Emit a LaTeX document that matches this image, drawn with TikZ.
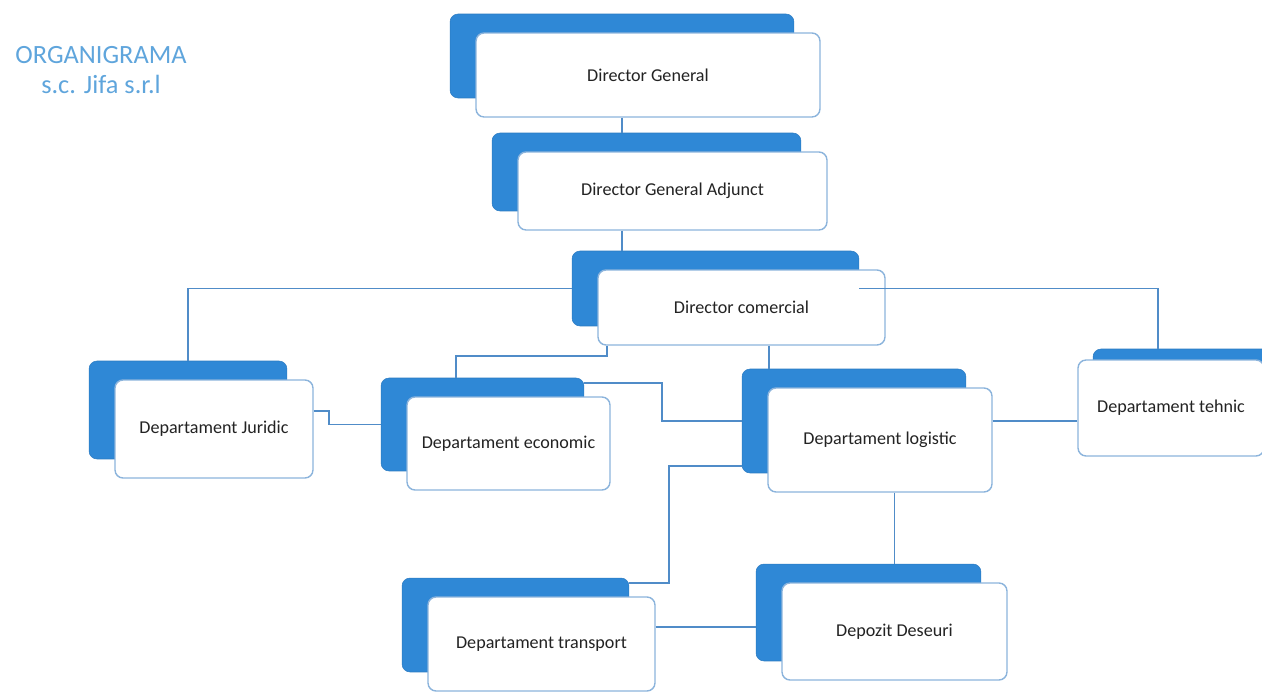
\documentclass[tikz,border=0pt]{standalone}
\usepackage{fontspec}
\setmainfont{Carlito}
\usepackage{xcolor}
\usepackage{tikz}
\usetikzlibrary{positioning,calc}

\definecolor{boxblue}{RGB}{47,136,214}
\definecolor{edgeblue}{RGB}{140,180,220}
\definecolor{lineblue}{RGB}{80,140,200}
\definecolor{titleblue}{RGB}{95,165,220}
\definecolor{textgrey}{RGB}{35,35,35}

\tikzset{
    boxsize/.style 2 args={minimum width=#1, minimum height=#2, inner sep=0pt},
    back/.style={fill=boxblue, draw=boxblue!90!black, line width=0.3pt, rounded corners=0.16cm},
    front/.style={fill=white, draw=edgeblue, line width=0.8pt, rounded corners=0.16cm,
                  text=textgrey, font=\fontsize{10.3}{12}\selectfont},
    link/.style={draw=lineblue, line width=1pt},
    title/.style={text=titleblue, align=center, font=\fontsize{15}{17}\selectfont}
}

\begin{document}
\begin{tikzpicture}[x=0.02cm, y=-0.02cm, on grid]
        \useasboundingbox (0,0) rectangle (1262,693);

        \node[title] (ttl) at (101,70) {ORGANIGRAMA\\s.c. Jifa s.r.l};

        % back boxes first, front boxes on top of them
        \node[back, boxsize={6.88cm}{1.68cm}]  (dg-b)   at (622,56)      {};
        \node[front, boxsize={6.88cm}{1.68cm}] (dg)     [below right=0.38cm and 0.52cm of dg-b]   {Director General};

        \node[back, boxsize={6.18cm}{1.56cm}]  (dga-b)  at (646.5,172)   {};
        \node[front, boxsize={6.18cm}{1.56cm}] (dga)    [below right=0.38cm and 0.52cm of dga-b]  {Director General Adjunct};

        \node[back, boxsize={5.74cm}{1.5cm}]   (dcom-b) at (715.5,288.5) {};
        \node[front, boxsize={5.74cm}{1.5cm}]  (dcom)   [below right=0.38cm and 0.52cm of dcom-b] {Director comercial};

        \node[back, boxsize={3.96cm}{1.96cm}]  (jur-b)  at (188,410)     {};
        \node[front, boxsize={3.96cm}{1.96cm}] (jur)    [below right=0.38cm and 0.52cm of jur-b]  {Departament Juridic};

        \node[back, boxsize={4.06cm}{1.86cm}]  (eco-b)  at (482.5,424.5) {};
        \node[front, boxsize={4.06cm}{1.86cm}] (eco)    [below right=0.38cm and 0.52cm of eco-b]  {Departament economic};

        \node[back, boxsize={4.48cm}{2.08cm}]  (log-b)  at (854,421)     {};
        \node[front, boxsize={4.48cm}{2.08cm}] (log)    [below right=0.38cm and 0.52cm of log-b]  {Departament logistic};

        \node[back, boxsize={3.72cm}{1.92cm}]  (teh-b)  at (1186,397)    {};
        \node[front, boxsize={3.72cm}{1.92cm}] (teh)    [below left=0.22cm and 0.3cm of teh-b]    {Departament tehnic};

        \node[back, boxsize={4.54cm}{1.88cm}]  (trn-b)  at (515.5,625)   {};
        \node[front, boxsize={4.54cm}{1.88cm}] (trn)    [below right=0.38cm and 0.52cm of trn-b]  {Departament transport};

        \node[back, boxsize={4.5cm}{1.94cm}]   (dep-b)  at (868.5,612.5) {};
        \node[front, boxsize={4.5cm}{1.94cm}]  (dep)    [below right=0.38cm and 0.52cm of dep-b]  {Depozit Deseuri};

        % connectors
        \draw[link] (dg-b |- dg.south) -- (dg-b |- dga-b.north);
        \draw[link] (dg-b |- dga.south) -- (dg-b |- dcom-b.north);
        \draw[link] (dcom-b.west) -| (jur-b.north);
        \draw[link] (dcom-b.east) -| ($(teh-b.north west)+(65,0)$);
        \draw[link] ($(dcom.south west)+(10,0)$) -- ++(0,10) -| ($(eco-b.north west)+(75,0)$);
        \path ($(log-b.north west)+(27,0)$) coordinate (log-in);
        \draw[link] (log-in |- dcom.south) -- (log-in);
        \draw[link] ($(jur.north east)+(0,32)$) -- ++(15,0) |- (eco-b.west);
        \draw[link] ($(eco-b.north east)+(0,5)$) -- ++(78,0) |- (log-b.west);
        \draw[link] (log.east |- log-b.east) -- (teh.west |- log-b.east);
        \draw[link] ($(log-b.south west)+(0,-7)$) -- ++(-73,0) |- ($(trn-b.north east)+(0,5)$);
        \draw[link] (dep |- log.south) -- (dep |- dep-b.north);
        \draw[link] ($(trn.north east)+(0,31)$) coordinate (trn-out) -- (trn-out -| dep-b.west);

    \end{tikzpicture}
\end{document}
